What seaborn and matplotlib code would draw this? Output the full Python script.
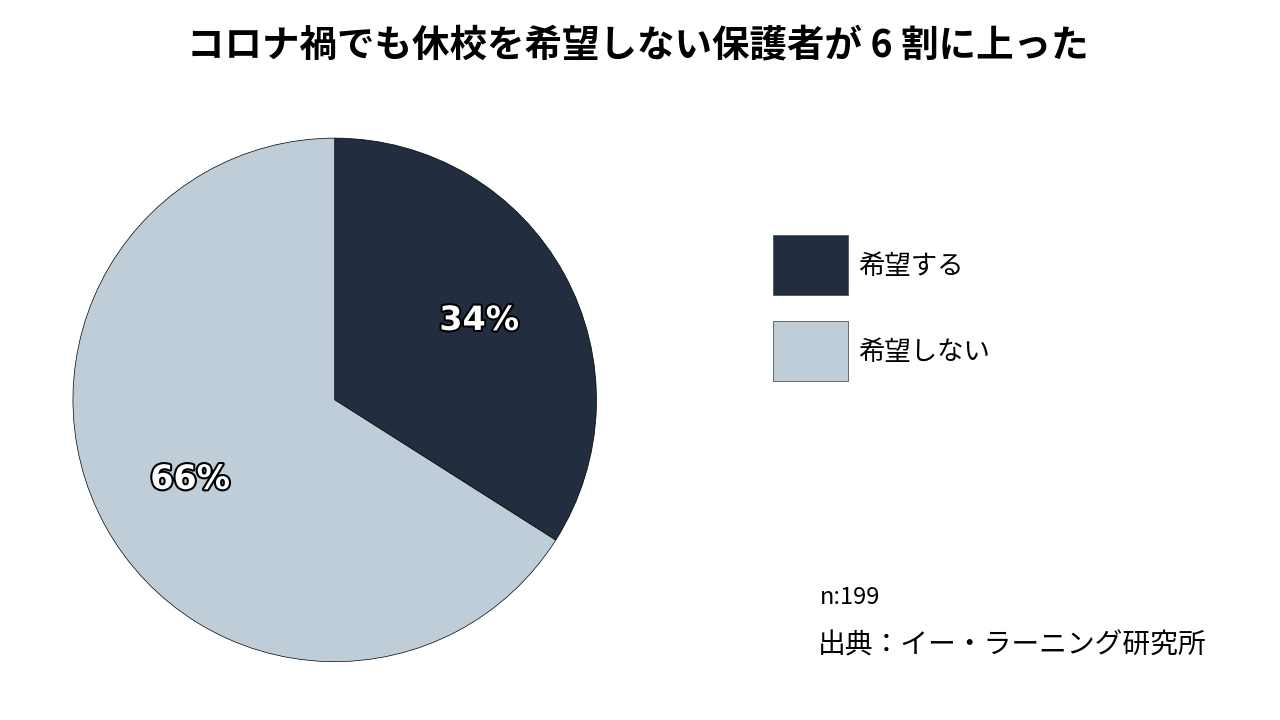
import matplotlib
matplotlib.use("Agg")
import matplotlib.pyplot as plt
import matplotlib.patheffects as pe
from matplotlib.patches import Rectangle
import seaborn as sns

categories = ["希望する", "希望しない"]
values = [34, 66]
colors = ["#222E40", "#BFCDD8"]
title = "コロナ禍でも休校を希望しない保護者が 6 割に上った"
note_n = "n:199"
note_src = "出典：イー・ラーニング研究所"

sns.set_theme(style="white")
plt.rcParams['font.family'] = ['Noto Sans CJK JP', 'DejaVu Sans']

fig = plt.figure(figsize=(12.8, 7.2), dpi=100)
ax = fig.add_axes([0.0570, 0.0806, 0.409, 0.728])
wedges, texts, autotexts = ax.pie(values, colors=colors, startangle=90, counterclock=False,
       autopct=lambda p: f"{p:.0f}%", pctdistance=0.63,
       wedgeprops=dict(edgecolor="black", linewidth=0.5))
for t in autotexts:
    t.set_color("white"); t.set_fontsize(24); t.set_fontweight("bold")
    t.set_family(['DejaVu Sans'])
    t.set_path_effects([pe.withStroke(linewidth=3, foreground="black")])
ax.set_xlim(-1, 1); ax.set_ylim(-1, 1)
ax.set_aspect("equal")

fig.text(0.4985, 1 - 45/720, title, ha="center", va="center", fontsize=27, fontweight="bold", color="black")

ys = [235, 321]
for cat, col, y in zip(categories, colors, ys):
    fig.patches.append(Rectangle((773/1280, 1 - (y+60)/720), 75/1280, 60/720,
                                 transform=fig.transFigure, facecolor=col,
                                 edgecolor="#555555", linewidth=0.6))
    fig.text(858/1280, 1 - (y+31)/720, cat, ha="left", va="center", fontsize=19, color="black")

fig.text(820/1280, 1 - 597/720, note_n, ha="left", va="center", fontsize=17, color="black")
fig.text(818/1280, 1 - 645/720, note_src, ha="left", va="center", fontsize=20, color="black")

fig.savefig("out.png", dpi=100)
